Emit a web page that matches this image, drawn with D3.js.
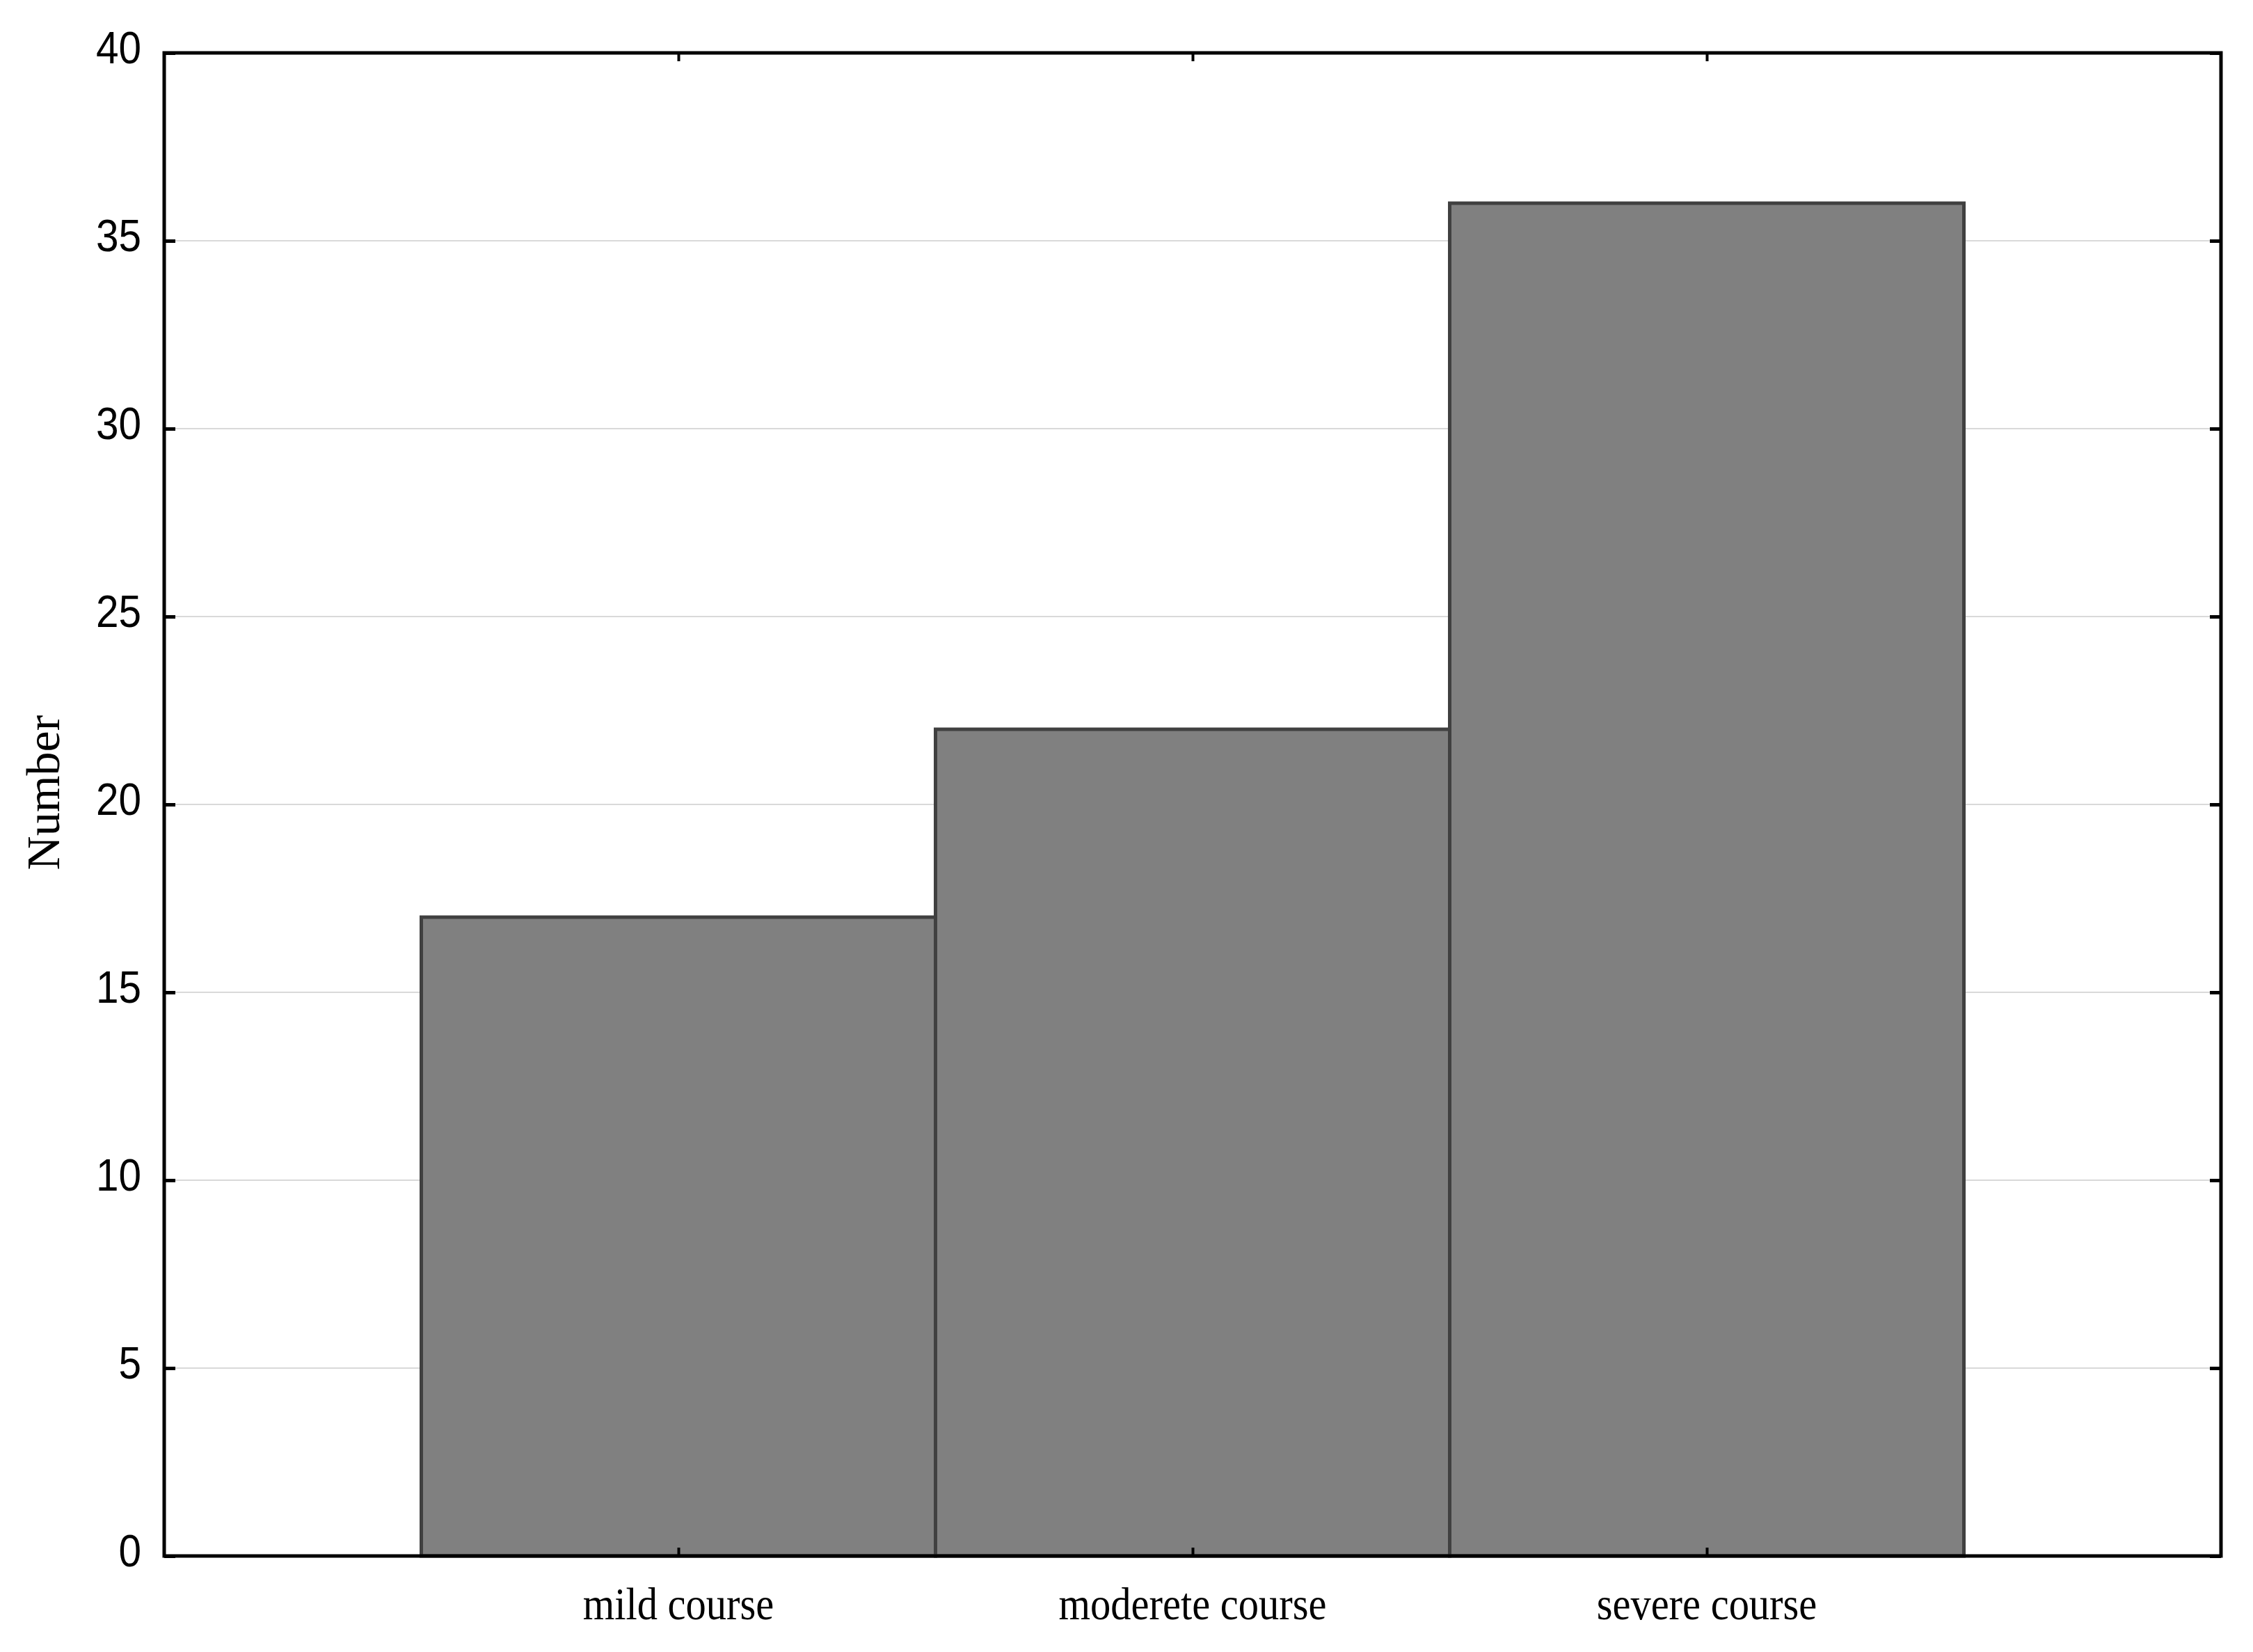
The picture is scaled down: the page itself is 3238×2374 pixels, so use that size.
<!DOCTYPE html>
<html>
<head>
<meta charset="utf-8">
<script src="https://cdn.jsdelivr.net/npm/d3@7"></script>
<style>
  html, body { margin: 0; padding: 0; background: #fff; }
  svg { display: block; }
</style>
</head>
<body>
<svg id="chart" width="3238" height="2374"></svg>
<script>
const categories = ["mild course", "moderete course", "severe course"];
const values = [17, 22, 36];
const yTicks = [0, 5, 10, 15, 20, 25, 30, 35, 40];
const yLabel = "Number";

(function () {
const W = 3238, H = 2374;
const margin = { left: 236, right: W - 3192, top: 76, bottom: H - 2236 };
const svg = d3.select("#chart");
const plotW = W - margin.left - margin.right;
const plotH = H - margin.top - margin.bottom;
const g = svg.append("g").attr("transform", `translate(${margin.left},${margin.top})`);

const x = d3.scalePoint().domain(categories).range([0, plotW]).padding(1);
const step = x.step();
const y = d3.scaleLinear().domain([0, 40]).range([plotH, 0]);

// gridlines
g.append("g").selectAll("line").data(yTicks.filter(t => t > 0 && t < 40)).join("line")
  .attr("x1", 0).attr("x2", plotW)
  .attr("y1", d => y(d)).attr("y2", d => y(d))
  .attr("stroke", "#d9d9d9").attr("stroke-width", 2);

// bars
g.append("g").selectAll("rect").data(values).join("rect")
  .attr("x", (d, i) => x(categories[i]) - step / 2)
  .attr("width", step)
  .attr("y", d => y(d))
  .attr("height", d => y(0) - y(d))
  .attr("fill", "#808080")
  .attr("stroke", "#404040")
  .attr("stroke-width", 5);

// left axis
const sx = 0.9;
const leftAx = g.append("g")
  .call(d3.axisLeft(y).tickValues(yTicks).tickSizeInner(-16).tickSizeOuter(0).tickPadding(33));
leftAx.select(".domain").remove();
leftAx.selectAll(".tick line").attr("stroke", "#000").attr("stroke-width", 5);
leftAx.selectAll(".tick text")
  .attr("font-family", "'Liberation Sans', Arial, sans-serif")
  .attr("font-size", 65).attr("fill", "#000").attr("dy", "0.22em")
  .attr("x", -33 / sx)
  .attr("transform", `scale(${sx},1)`);

// right axis ticks
const rightAx = g.append("g").attr("transform", `translate(${plotW},0)`)
  .call(d3.axisRight(y).tickValues(yTicks).tickSizeInner(-16).tickSizeOuter(0).tickFormat(""));
rightAx.select(".domain").remove();
rightAx.selectAll(".tick line").attr("stroke", "#000").attr("stroke-width", 5);

// bottom axis
const bottomAx = g.append("g").attr("transform", `translate(0,${plotH})`)
  .call(d3.axisBottom(x).tickSizeInner(-12).tickSizeOuter(0).tickFormat(""));
bottomAx.select(".domain").remove();
bottomAx.selectAll(".tick line").attr("stroke", "#000").attr("stroke-width", 4);

// top axis ticks
const topAx = g.append("g")
  .call(d3.axisTop(x).tickSizeInner(-12).tickSizeOuter(0).tickFormat(""));
topAx.select(".domain").remove();
topAx.selectAll(".tick line").attr("stroke", "#000").attr("stroke-width", 4);

// x labels (condensed serif)
g.append("g").selectAll("text").data(categories).join("text")
  .attr("transform", d => `translate(${x(d)},${plotH + 91}) scale(0.9,1)`)
  .attr("text-anchor", "middle")
  .attr("font-family", "'Liberation Serif', 'Times New Roman', serif")
  .attr("font-size", 65).attr("fill", "#000")
  .text(d => d);

// frame
g.append("rect").attr("x", 0).attr("y", 0).attr("width", plotW).attr("height", plotH)
  .attr("fill", "none").attr("stroke", "#000").attr("stroke-width", 5);

// y label
svg.append("text")
  .attr("transform", `translate(85,1139) rotate(-90)`)
  .attr("text-anchor", "middle")
  .attr("font-family", "'Liberation Serif', 'Times New Roman', serif")
  .attr("font-size", 68).attr("fill", "#000")
  .text(yLabel);
})();
</script>
</body>
</html>
